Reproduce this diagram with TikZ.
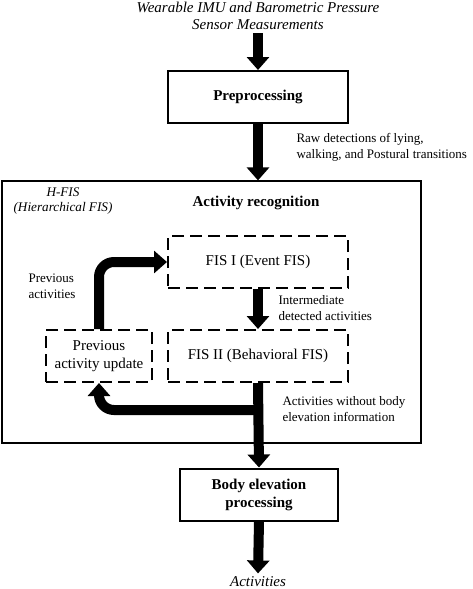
\documentclass[tikz,border=0pt]{standalone}
\usepackage{fontspec}
\setmainfont{Liberation Serif}
\usetikzlibrary{arrows.meta,positioning}

\begin{document}
\begin{tikzpicture}[x=1pt,y=-1pt,
    every node/.style={font=\fontsize{13}{16}\selectfont},
    solidbox/.style={draw,line width=2pt,minimum width=180pt,minimum height=52pt,
      align=center,font=\fontsize{15}{18}\selectfont\bfseries},
    fisbox/.style={draw,line width=2pt,dash pattern=on 12pt off 6pt,
      minimum width=180pt,minimum height=52pt,align=center,
      font=\fontsize{15}{18}\selectfont},
    flow/.style={line width=10pt,-{Triangle[width=22pt,length=13pt]}},
    note/.style={align=left,anchor=west}]

  \useasboundingbox (0,0) rectangle (472,589);

  % outer H-FIS frame
  \node[draw,line width=1.2pt,minimum width=419pt,minimum height=262pt] (hfis) at (211.5,312) {};

  \node[align=center,font=\fontsize{15}{17}\selectfont\itshape] (input) at (258,16)
    {Wearable IMU and Barometric Pressure\\Sensor Measurements};
  \node[solidbox] (pre) at (258,97) {Preprocessing};
  \node[fisbox] (fis1) at (258,262) {FIS I (Event FIS)};
  \node[fisbox] (fis2) at (258,356) {FIS II (Behavioral FIS)};
  \node[fisbox,minimum width=106pt] (prev) at (99,356) {Previous\\activity update};
  \node[solidbox,minimum width=158pt] (body) at (259,494.5) {Body elevation\\processing};
  \node[font=\fontsize{15}{17}\selectfont\itshape] (out) at (258,582) {Activities};

  % labels
  \node[align=center,font=\fontsize{13.2}{15}\selectfont\itshape] (hfislbl) at (63,201)
    {H-FIS\\(Hierarchical FIS)};
  \node[font=\fontsize{15}{18}\selectfont\bfseries] (arlbl) at (256,203) {Activity recognition};
  \node[note] (rawlbl) at (293,147) {Raw detections of lying,\\walking, and Postural transitions};
  \node[note] (midlbl) at (275,308) {Intermediate\\detected activities};
  \node[note] (prevlbl) at (25,286) {Previous\\activities};
  \node[note] (outlbl) at (279,409) {Activities without body\\elevation information};

  % flows
  \coordinate (split) at (258,410);
  \draw[flow] (input.south) -- (pre.north);
  \draw[flow] (pre.south) -- (pre.south |- hfis.north);
  \draw[flow] (fis1.south) -- (fis2.north);
  \draw[flow] (fis2.south) -- (body.north);
  \draw[flow] (body.south) -- (out.north);
  \draw[flow,rounded corners=15pt] (prev.north) |- (fis1.west);
  \draw[flow,rounded corners=15pt] (split) -| (prev.south);
\end{tikzpicture}
\end{document}
